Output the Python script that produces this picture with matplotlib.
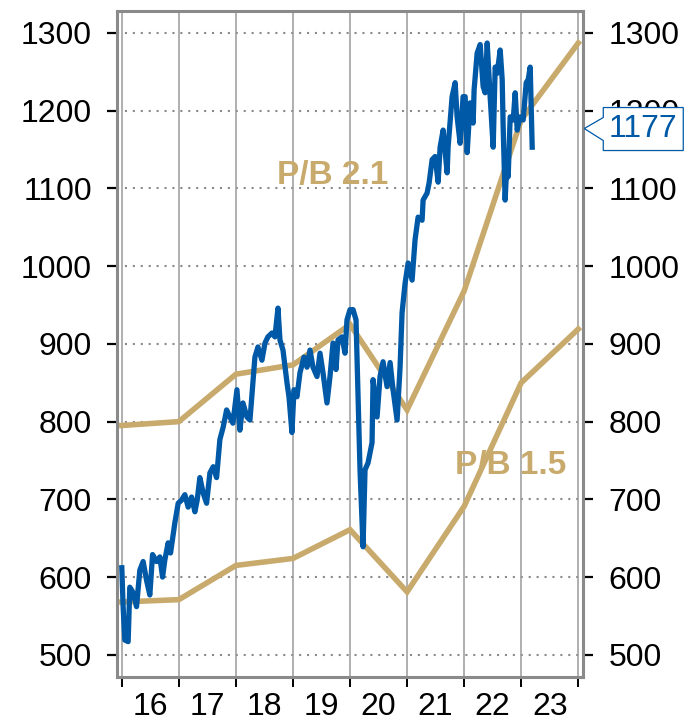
import matplotlib
matplotlib.use('Agg')
import matplotlib.pyplot as plt
from matplotlib.patches import Polygon
from matplotlib.ticker import FixedLocator, NullFormatter, FixedFormatter

BLUE = '#0059a6'
GOLD = '#c9aa6d'

# year-start anchors for the P/B bands
band_years = [2016, 2017, 2018, 2019, 2020, 2021, 2022, 2023, 2024]
pb21 = [795, 800, 861, 873, 925, 815, 968, 1188, 1287]
pb15 = [568, 571, 615, 624, 661, 581, 691, 850, 919]

# index level (decimal years)
px_years = [
    2016.000, 2016.023, 2016.053, 2016.111, 2016.140, 2016.198, 2016.258, 2016.316,
    2016.374, 2016.433, 2016.491, 2016.539, 2016.609, 2016.667, 2016.714, 2016.754,
    2016.812, 2016.854, 2016.930, 2016.988, 2017.047, 2017.105, 2017.163, 2017.223,
    2017.281, 2017.321, 2017.368, 2017.426, 2017.486, 2017.544, 2017.602, 2017.661,
    2017.719, 2017.777, 2017.837, 2017.895, 2017.947, 2018.018, 2018.070, 2018.123,
    2018.193, 2018.246, 2018.298, 2018.333, 2018.386, 2018.456, 2018.509, 2018.561,
    2018.632, 2018.684, 2018.737, 2018.772, 2018.825, 2018.895, 2018.930, 2018.982,
    2019.018, 2019.070, 2019.123, 2019.193, 2019.246, 2019.298, 2019.351, 2019.421,
    2019.474, 2019.526, 2019.596, 2019.649, 2019.702, 2019.754, 2019.789, 2019.860,
    2019.912, 2019.947, 2020.000, 2020.053, 2020.105, 2020.140, 2020.175, 2020.228,
    2020.263, 2020.316, 2020.386, 2020.404, 2020.474, 2020.526, 2020.579, 2020.649,
    2020.702, 2020.754, 2020.825, 2020.877, 2020.912, 2020.965, 2021.018, 2021.088,
    2021.140, 2021.193, 2021.263, 2021.281, 2021.351, 2021.386, 2021.439, 2021.491,
    2021.544, 2021.579, 2021.632, 2021.702, 2021.719, 2021.789, 2021.842, 2021.877,
    2021.930, 2021.982, 2022.018, 2022.053, 2022.105, 2022.158, 2022.175, 2022.228,
    2022.281, 2022.333, 2022.368, 2022.404, 2022.456, 2022.509, 2022.544, 2022.579,
    2022.632, 2022.667, 2022.684, 2022.719, 2022.754, 2022.772, 2022.807, 2022.860,
    2022.895, 2022.930, 2022.982, 2023.035, 2023.088, 2023.123, 2023.158, 2023.193,
]
px_values = [
    612, 562, 519, 517, 587, 580, 562, 609,
    620, 596, 577, 629, 620, 626, 600, 622,
    644, 631, 670, 695, 699, 706, 690, 703,
    684, 699, 728, 708, 695, 734, 742, 728,
    777, 793, 815, 806, 798, 841, 789, 824,
    806, 802, 850, 883, 896, 879, 901, 909,
    914, 909, 946, 905, 892, 850, 832, 786,
    841, 832, 863, 883, 870, 892, 870, 858,
    888, 863, 824, 858, 901, 867, 905, 909,
    888, 931, 944, 944, 931, 832, 738, 639,
    738, 747, 773, 854, 806, 858, 877, 845,
    876, 841, 802, 870, 940, 978, 1004, 982,
    1034, 1063, 1059, 1085, 1094, 1107, 1137, 1141,
    1108, 1153, 1175, 1120, 1153, 1218, 1236, 1192,
    1158, 1218, 1218, 1146, 1210, 1184, 1227, 1274,
    1285, 1231, 1223, 1287, 1218, 1153, 1256, 1248,
    1278, 1240, 1179, 1085, 1141, 1115, 1192, 1188,
    1223, 1175, 1192, 1188, 1236, 1240, 1256, 1153,
]
last_value = 1177

y_ticks = [500, 600, 700, 800, 900, 1000, 1100, 1200, 1300]
year_labels = ['16', '17', '18', '19', '20', '21', '22', '23']

plt.rcParams['font.family'] = ['Liberation Sans', 'DejaVu Sans']

fig = plt.figure(figsize=(6.87, 7.27), dpi=100)
ax = fig.add_axes([0.170, 0.069, 0.679, 0.916])

ax.set_xlim(2015.912, 2024.088)
ax.set_ylim(471.7, 1328.3)

# grid
for yv in y_ticks:
    ax.axhline(yv, color='#8a8a8a', lw=1.5, ls=(0, (1, 2.8)), zorder=1)
for xv in band_years:
    ax.axvline(xv, color='#9a9a9a', lw=1.1, zorder=1)

ax.plot(band_years, pb21, color=GOLD, lw=4.0, solid_joinstyle='miter', zorder=2)
ax.plot(band_years, pb15, color=GOLD, lw=4.0, solid_joinstyle='miter', zorder=2)
ax.plot(px_years, px_values, color=BLUE, lw=3.8, zorder=3)

ax.text(2019.70, 1117, 'P/B 2.1', color=GOLD, fontsize=24, fontweight='bold',
        ha='center', va='center')
ax.text(2022.81, 744, 'P/B 1.5', color=GOLD, fontsize=24, fontweight='bold',
        ha='center', va='center')

for s in ax.spines.values():
    s.set_color('#8a8a8a')
    s.set_linewidth(2.2)

ax.set_yticks(y_ticks)
ax.tick_params(axis='y', which='both', left=True, right=True, labelleft=True,
               labelright=True, length=7, width=1.6, color='black',
               labelsize=23, pad=11)

ax.xaxis.set_major_locator(FixedLocator(band_years))
ax.xaxis.set_major_formatter(NullFormatter())
ax.xaxis.set_minor_locator(FixedLocator([y + 0.5 for y in band_years[:-1]]))
ax.xaxis.set_minor_formatter(FixedFormatter(year_labels))
ax.tick_params(axis='x', which='major', length=7, width=1.4, color='black')
ax.tick_params(axis='x', which='minor', length=0, labelsize=23, pad=11)

# last value callout, tip sits on the right spine at the last value
tip_x, tip_y = ax.transData.transform((ax.get_xlim()[1], last_value))
tip_x += 1
shape = [(0, 0), (19, 11), (19, 21), (99, 21), (99, -22), (19, -22), (19, -12)]
to_fig = fig.transFigure.inverted()
verts = [to_fig.transform((tip_x + dx, tip_y + dy)) for dx, dy in shape]
fig.patches.append(Polygon(verts, closed=True, fc='white', ec=BLUE, lw=0.9,
                           transform=fig.transFigure, figure=fig, zorder=5))
cx, cy = to_fig.transform((tip_x + 59, tip_y))
fig.text(cx, cy, f'{last_value}', color=BLUE, fontsize=23, ha='center',
         va='center', zorder=6)

fig.savefig('out.png', dpi=100)
